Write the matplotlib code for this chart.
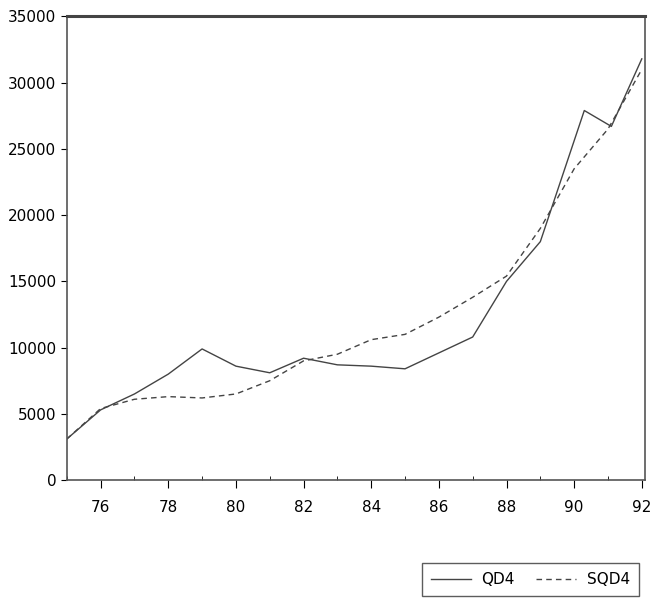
import matplotlib.pyplot as plt
from matplotlib.ticker import MultipleLocator

years = [75, 76, 77, 78, 79, 80, 81, 82, 83, 84, 85, 86, 87, 88, 89, 90.3, 91.1, 92]
qd4 = [3100, 5300, 6500, 8000, 9900, 8600, 8100, 9200, 8700, 8600, 8400, 9600, 10800,
       15000, 18000, 27900, 26700, 31800]

years_s = [75, 76, 77, 78, 79, 80, 81, 82, 83, 84, 85, 86, 87, 88, 89, 90, 91, 92]
sqd4 = [3100, 5400, 6100, 6300, 6200, 6500, 7500, 9000, 9500, 10600, 11000, 12300, 13800,
        15400, 19000, 23500, 26500, 31000]

fig = plt.figure(figsize=(6.55, 6.1), dpi=100)
ax = fig.add_axes([0.102, 0.213, 0.883, 0.76])

ax.plot(years, qd4, color="#444444", lw=1.0, ls="-", label="QD4")
ax.plot(years_s, sqd4, color="#444444", lw=1.0, ls=(0, (4, 3)), label="SQD4")

ax.set_xlim(75, 92.1)
ax.set_ylim(0, 35000)
ax.xaxis.set_minor_locator(MultipleLocator(1))
ax.yaxis.set_major_locator(MultipleLocator(5000))
ax.set_xticks(range(76, 93, 2))
ax.tick_params(axis="x", which="major", direction="out", length=6, labelsize=11, pad=8)
ax.tick_params(axis="x", which="minor", direction="in", length=3)
ax.tick_params(axis="y", direction="out", length=4, labelsize=11)

for s in ["left", "right", "bottom"]:
    ax.spines[s].set_color("#555555")
    ax.spines[s].set_linewidth(1.2)
ax.spines["top"].set_color("#444444")
ax.spines["top"].set_linewidth(2.2)

fig.legend(loc="lower right", bbox_to_anchor=(0.987, 0.01), ncol=2, frameon=True,
           fancybox=False, edgecolor="#333333", fontsize=11, handlelength=2.6,
           columnspacing=1.4, borderpad=0.6, handletextpad=0.7)

fig.savefig("out.png", dpi=100)
